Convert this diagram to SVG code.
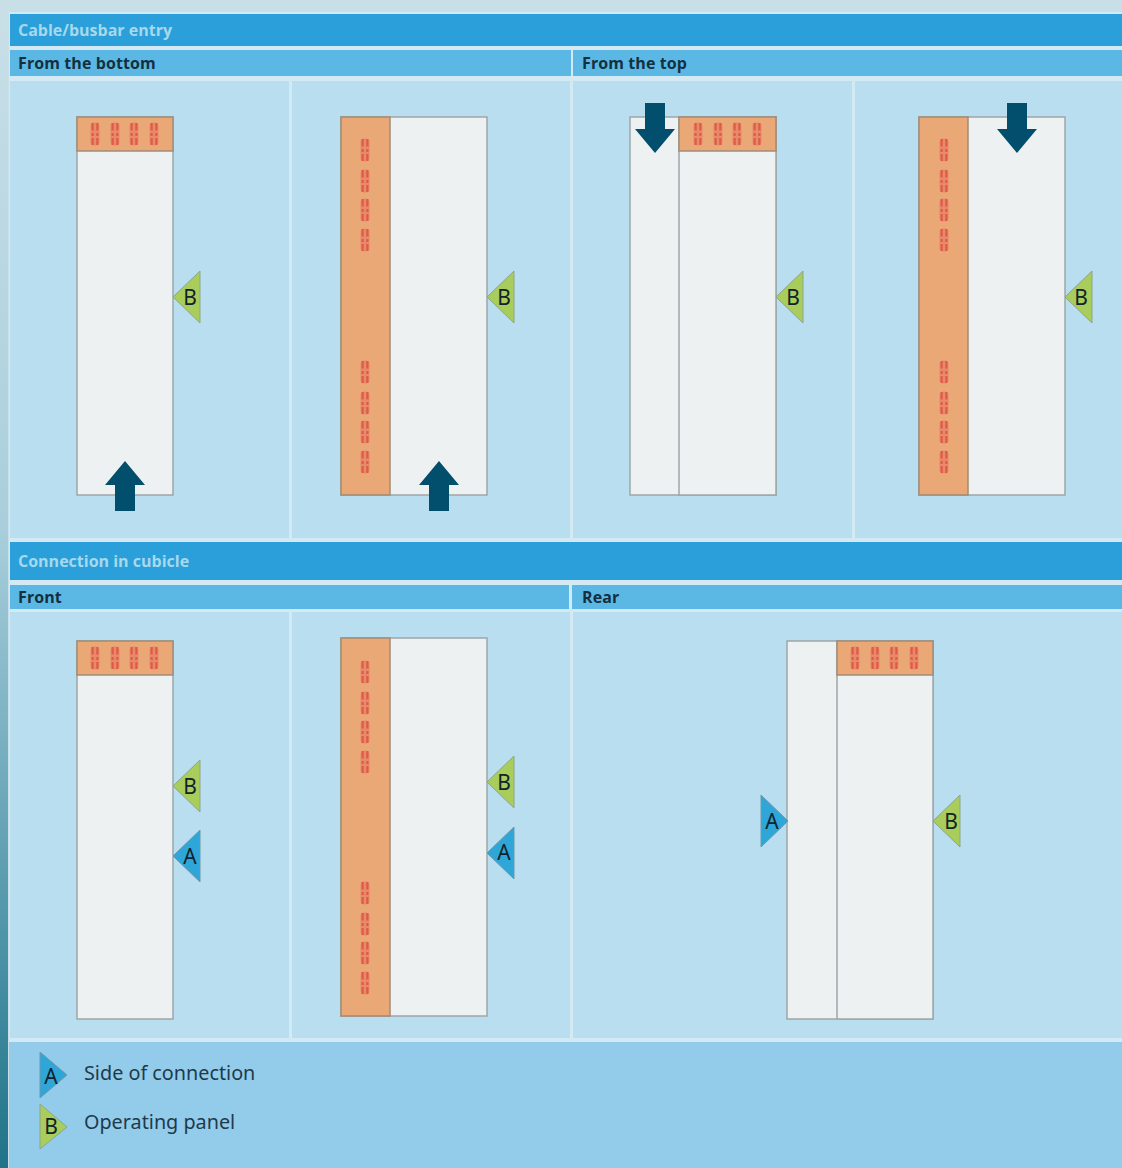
<svg xmlns="http://www.w3.org/2000/svg" width="1122" height="1168" viewBox="0 0 1122 1168">
<style>
.h{fill:#2a9fd9}.s{fill:#5bb8e5}.p{fill:#b9deef}.sep{fill:#d3e9f3}
.c{fill:#eef1f1;stroke:#9da6a8;stroke-width:1.5}
.o{fill:#e9a876;stroke:#a08d78;stroke-width:1.5}
.ar{fill:#024e6d}
.g{fill:#a9cd5b;stroke:#8da58a;stroke-width:1}
.b{fill:#2ea6d8;stroke:#6d98ad;stroke-width:1}
text{font-family:"Noto Sans","DejaVu Sans",sans-serif}
.t1{font-size:16px;font-weight:700;fill:#a6d8ee;font-family:"Open Sans","Noto Sans",sans-serif}
.t2{font-size:16px;font-weight:700;letter-spacing:.1px;fill:#14303e;font-family:"Open Sans","Noto Sans",sans-serif}
.l{font-size:21px;fill:#13232b;text-anchor:middle;font-family:"Noto Sans",sans-serif}
.t3{font-size:19.8px;fill:#1d3a4a}
</style>
<defs>
<linearGradient id="lg" x1="0" y1="0" x2="0" y2="1"><stop offset="0" stop-color="#c9dfe8"/><stop offset="0.45" stop-color="#a9cfdc"/><stop offset="0.8" stop-color="#4f95a8"/><stop offset="1" stop-color="#1f7389"/></linearGradient>
<g id="lug"><rect x="-4.500" y="-11.500" width="9" height="23" rx="4" fill="#e8896a"/><path d="M-2.400 -11V-3.500M-2.400 -1V2M-2.400 4V11M2.400 -11V-3.500M2.400 -1V2M2.400 4V11" fill="none" stroke="#e05a48" stroke-width="2.200"/></g>
<g id="lugh"><use href="#lug" x="-30"/><use href="#lug" x="-10"/><use href="#lug" x="9"/><use href="#lug" x="29"/></g>
<g id="lugv"><use href="#lug" y="0"/><use href="#lug" y="31"/><use href="#lug" y="60"/><use href="#lug" y="90"/></g>
<path id="up" class="ar" d="M0 0L20 24H10V50H-10V24H-20Z"/>
<path id="down" class="ar" d="M0 0L20 -24H10V-50H-10V-24H-20Z"/>
<path id="tri" d="M0 0L27 -26V26Z"/>
</defs>
<rect width="1122" height="1168" fill="#c9dfe8"/>
<rect x="0" y="0" width="8" height="1168" fill="url(#lg)"/>
<g id="section-entry">
<rect class="sep" x="9" y="12" width="1113" height="528"/>
<rect class="h" x="10" y="14" width="1112" height="32"/>
<rect class="s" x="10" y="50" width="561" height="26"/>
<rect class="s" x="573" y="50" width="549" height="26"/>
<rect class="p" x="10" y="81" width="279" height="457"/>
<rect class="p" x="292" y="81" width="278" height="457"/>
<rect class="p" x="573" y="81" width="279" height="457"/>
<rect class="p" x="855" y="81" width="267" height="457"/>
<text class="t1" x="18" y="36">Cable/busbar entry</text>
<text class="t2" x="18" y="69">From the bottom</text>
<text class="t2" x="582" y="69">From the top</text>
</g>
<g id="section-cubicle">
<rect class="sep" x="9" y="540" width="1113" height="502"/>
<rect class="h" x="10" y="542" width="1112" height="38"/>
<rect class="s" x="10" y="585" width="559" height="24"/>
<rect class="s" x="572" y="585" width="550" height="24"/>
<rect class="p" x="10" y="612" width="279" height="426"/>
<rect class="p" x="292" y="612" width="278" height="426"/>
<rect class="p" x="573" y="612" width="549" height="426"/>
<text class="t1" x="18" y="567">Connection in cubicle</text>
<text class="t2" x="18" y="603">Front</text>
<text class="t2" x="582" y="603">Rear</text>
</g>
<rect id="legend-bg" x="9" y="1042" width="1113" height="126" fill="#93cbea"/>
<g id="cab1">
<rect class="c" x="77" y="117" width="96" height="378"/>
<rect class="o" x="77" y="117" width="96" height="34"/>
<use href="#lugh" x="125" y="134"/>
<use href="#up" x="125" y="461"/>
<use href="#tri" class="g" x="173" y="297"/><text class="l" x="190" y="305">B</text>
</g>
<g id="cab2">
<rect class="c" x="341" y="117" width="146" height="378"/>
<rect class="o" x="341" y="117" width="49" height="378"/>
<use href="#lugv" x="365" y="150"/><use href="#lugv" x="365" y="372"/>
<use href="#up" x="439" y="461"/>
<use href="#tri" class="g" x="487" y="297"/><text class="l" x="504" y="305">B</text>
</g>
<g id="cab3">
<rect class="c" x="630" y="117" width="146" height="378"/>
<rect class="c" x="679" y="117" width="97" height="378"/>
<rect class="o" x="679" y="117" width="97" height="34"/>
<use href="#lugh" x="728" y="134"/>
<use href="#down" x="655" y="153"/>
<use href="#tri" class="g" x="776" y="297"/><text class="l" x="793" y="305">B</text>
</g>
<g id="cab4">
<rect class="c" x="919" y="117" width="146" height="378"/>
<rect class="o" x="919" y="117" width="49" height="378"/>
<use href="#lugv" x="944" y="150"/><use href="#lugv" x="944" y="372"/>
<use href="#down" x="1017" y="153"/>
<use href="#tri" class="g" x="1065" y="297"/><text class="l" x="1081" y="305">B</text>
</g>
<g id="cab5">
<rect class="c" x="77" y="641" width="96" height="378"/>
<rect class="o" x="77" y="641" width="96" height="34"/>
<use href="#lugh" x="125" y="658"/>
<use href="#tri" class="g" x="173" y="786"/><text class="l" x="190" y="794">B</text>
<use href="#tri" class="b" x="173" y="856"/><text class="l" x="190" y="864">A</text>
</g>
<g id="cab6">
<rect class="c" x="341" y="638" width="146" height="378"/>
<rect class="o" x="341" y="638" width="49" height="378"/>
<use href="#lugv" x="365" y="672"/><use href="#lugv" x="365" y="893"/>
<use href="#tri" class="g" x="487" y="782"/><text class="l" x="504" y="790">B</text>
<use href="#tri" class="b" x="487" y="853"/><text class="l" x="504" y="860">A</text>
</g>
<g id="cab7">
<rect class="c" x="787" y="641" width="146" height="378"/>
<rect class="c" x="837" y="641" width="96" height="378"/>
<rect class="o" x="837" y="641" width="96" height="34"/>
<use href="#lugh" x="885" y="658"/>
<path class="b" d="M788 821L761 795V847Z"/><text class="l" x="772" y="829">A</text>
<use href="#tri" class="g" x="933" y="821"/><text class="l" x="951" y="829">B</text>
</g>
<g id="legend">
<path class="b" d="M67 1075L40 1052V1098Z"/><text class="l" x="51" y="1084">A</text>
<path class="g" d="M67 1127L40 1104V1149Z"/><text class="l" x="51" y="1134">B</text>
<text class="t3" x="84" y="1080">Side of connection</text>
<text class="t3" x="84" y="1129">Operating panel</text>
</g>
</svg>
